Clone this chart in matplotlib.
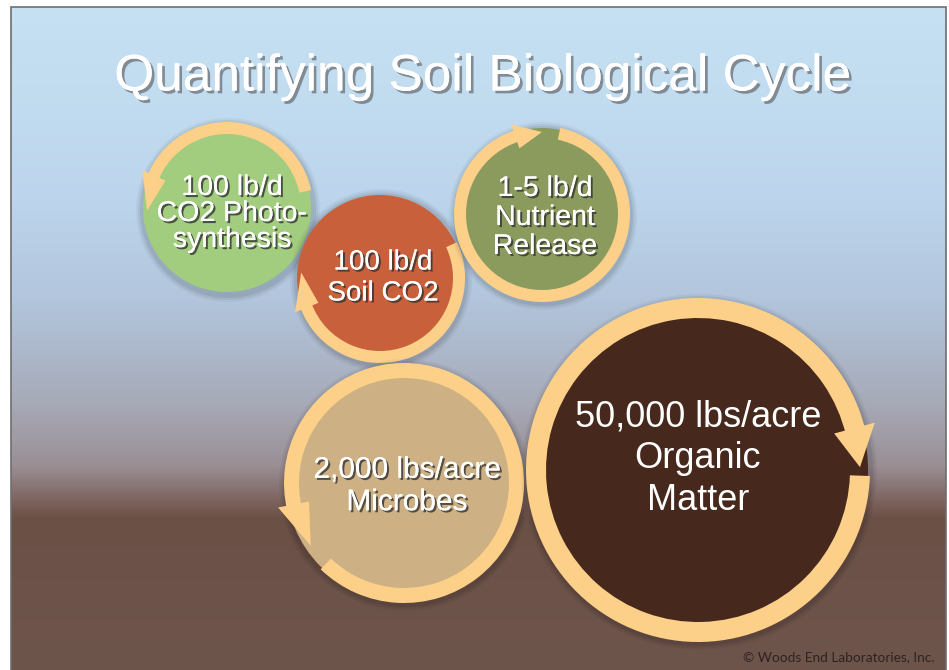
import numpy as np
import matplotlib
matplotlib.use('Agg')
import matplotlib.pyplot as plt
from matplotlib.patches import Circle, Wedge, Polygon, Rectangle
import matplotlib.patheffects as pe

W, H = 949, 670

# chart content
title = 'Quantifying Soil Biological Cycle'
amounts = ['100 lb/d', '100 lb/d', '1-5 lb/d', '2,000 lbs/acre', '50,000 lbs/acre']
names = ['CO2 Photo-\nsynthesis', 'Soil CO2', 'Nutrient\nRelease', 'Microbes', 'Organic\nMatter']
credit = '\u00a9 Woods End Laboratories, Inc.'

# layout in image pixels (x, y from top), radius, ring width
centers = [(227, 208), (380, 278), (542, 214), (404, 483), (698, 470)]
radii = [86, 85, 88, 120, 172]
ring_w = [12, 12, 12, 15, 20]
# ring arc (theta1, theta2) and arrow head (base angle, tip angle), degrees ccw
arcs = [(12, 158), (200, 385), (107, 438), (226, 553), (13, 358)]
heads = [(156, 182), (202, 176), (109, 90), (191, 214), (15, 1)]
fills = ['#a2cc7e', '#c8613b', '#8b9b5d', '#cdb184', '#46291c']
# text centre offsets from circle centre (pixels, y down)
text_off = [(5, 6), (3, 0), (3, 4), (3, 3), (0, -11)]
fsize = [20.5, 20, 20.5, 21.5, 26]
lspace = [1.0, 1.25, 1.15, 1.2, 1.25]
ring_col = '#fdd08a'

fig = plt.figure(figsize=(W / 100, H / 100), dpi=100)
ax = fig.add_axes([0, 0, 1, 1])
ax.set_xlim(0, W)
ax.set_ylim(0, H)
ax.axis('off')
fig.patch.set_facecolor('white')

# background gradient (sky to soil)
stop_y = [7, 200, 300, 400, 465, 500, 518, 670]
stop_c = ['#c6e1f3', '#bcd5ec', '#b2c5dc', '#a7abb9', '#9a8f95', '#7d645f', '#6b5046', '#6e554c']
rgb = np.array([matplotlib.colors.to_rgb(c) for c in stop_c])
rows = np.arange(7, H)
grad = np.stack([np.interp(rows, stop_y, rgb[:, k]) for k in range(3)], axis=1)
grad = np.repeat(grad[:, None, :], 2, axis=1)
ax.imshow(grad, extent=[11, 946, 0, H - 7], origin='upper', aspect='auto', zorder=0)
ax.add_patch(Rectangle((11, -5), 935, H - 7 + 5, fill=False, ec='#6e6e6e', lw=1.2, zorder=1))

ax.text(W / 2 + 8, H - 77, title, ha='center', va='center', fontsize=37,
        family='Liberation Sans', color='white', zorder=5,
        path_effects=[pe.withSimplePatchShadow(offset=(2, -2), shadow_rgbFace='#555555', alpha=0.6),
                      pe.Normal()])


def pt(deg, r, cx, cy):
    a = np.radians(deg)
    return cx + r * np.cos(a), cy + r * np.sin(a)


for i in range(len(names)):
    cx, cy = centers[i][0], H - centers[i][1]
    r = radii[i]
    z = 2 + i
    # soft halo
    for k, a in [(6, 0.04), (4, 0.05), (2, 0.07)]:
        ax.add_patch(Circle((cx + 1, cy - 2), r + k, color='black', alpha=a, lw=0, zorder=z))
    ax.add_patch(Circle((cx, cy), r - 2, color=fills[i], lw=0, zorder=z))
    w = ring_w[i]
    t1, t2 = arcs[i]
    ax.add_patch(Wedge((cx, cy), r, t1, t2, width=w, color=ring_col, lw=0, zorder=z))
    rm = r - w / 2
    hw = w * 1.05
    b, tip = heads[i]
    poly = [pt(b, rm - hw, cx, cy), pt(b, rm + hw, cx, cy), pt(tip, rm, cx, cy)]
    ax.add_patch(Polygon(poly, closed=True, color=ring_col, lw=0, zorder=z))

    effects = [pe.withSimplePatchShadow(offset=(1.5, -1.5), shadow_rgbFace='#333333', alpha=0.8),
               pe.Normal()]
    if i == 4:
        effects = []
    dx, dy = text_off[i]
    ax.text(cx + dx, cy - dy, amounts[i] + '\n' + names[i], ha='center', va='center',
            fontsize=fsize[i], linespacing=lspace[i], family='Liberation Sans',
            color='white', zorder=z + 0.5, path_effects=effects)

ax.text(935, H - 661, credit, ha='right', va='baseline', fontsize=9.8,
        family='Lato', color='#2e2220', zorder=9)

fig.savefig('out.png', dpi=100)
